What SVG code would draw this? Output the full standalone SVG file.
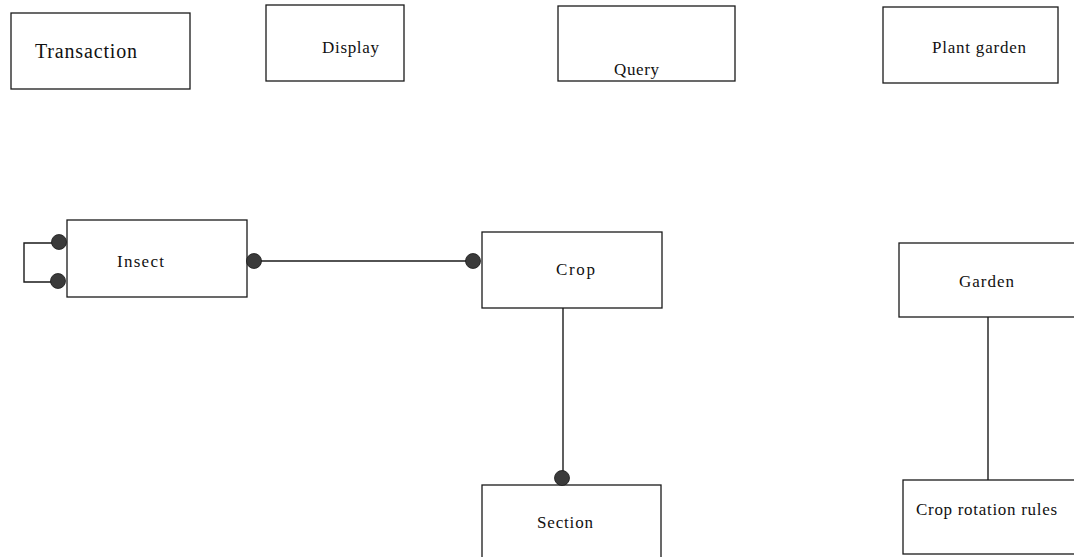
<svg xmlns="http://www.w3.org/2000/svg" width="1074" height="557" viewBox="0 0 1074 557">
  <style>
    .box { fill: #ffffff; stroke: #1a1a1a; stroke-width: 1.3; }
    .lbl { font-family: "Liberation Serif", "Times New Roman", serif; font-size: 17px; fill: #111; }
    .big { font-size: 20px; }
    .wire { fill: none; stroke: #1a1a1a; stroke-width: 1.4; }
    .dot { fill: #3a3a3a; stroke: #1a1a1a; stroke-width: 0.8; }
  </style>
  <rect width="1074" height="557" fill="#ffffff"/>

  <!-- connectors -->
  <g id="connectors">
    <polyline class="wire" points="59,243 24,243 24,282 57,282"/>
    <line class="wire" x1="254" y1="261" x2="473" y2="261"/>
    <line class="wire" x1="563" y1="308" x2="563" y2="478"/>
    <line class="wire" x1="988" y1="317" x2="988" y2="480"/>
  </g>

  <g id="transaction">
    <rect class="box" x="11" y="13" width="179" height="76"/>
    <text class="lbl big" x="35" y="58" textLength="102" lengthAdjust="spacing">Transaction</text>
  </g>

  <g id="display">
    <rect class="box" x="266" y="5" width="138" height="76"/>
    <text class="lbl" x="322" y="53" textLength="57" lengthAdjust="spacing">Display</text>
  </g>

  <g id="query">
    <rect class="box" x="558" y="6" width="177" height="75"/>
    <text class="lbl" x="614" y="75" textLength="45" lengthAdjust="spacing">Query</text>
  </g>

  <g id="plant-garden">
    <rect class="box" x="883" y="7" width="175" height="76"/>
    <text class="lbl" x="932" y="53" textLength="94" lengthAdjust="spacing">Plant garden</text>
  </g>

  <g id="insect">
    <rect class="box" x="67" y="220" width="180" height="77"/>
    <text class="lbl" x="117" y="267" textLength="47" lengthAdjust="spacing">Insect</text>
    <circle class="dot" cx="59" cy="242" r="7.5"/>
    <circle class="dot" cx="58" cy="281" r="7.5"/>
    <circle class="dot" cx="254" cy="261" r="7.5"/>
  </g>

  <g id="crop">
    <rect class="box" x="482" y="232" width="180" height="76"/>
    <text class="lbl" x="556" y="275" textLength="39" lengthAdjust="spacing">Crop</text>
    <circle class="dot" cx="473" cy="261" r="7.5"/>
  </g>

  <g id="section">
    <rect class="box" x="482" y="485" width="179" height="80"/>
    <text class="lbl" x="537" y="528" textLength="56" lengthAdjust="spacing">Section</text>
    <circle class="dot" cx="562" cy="478" r="7.5"/>
  </g>

  <g id="garden">
    <rect class="box" x="899" y="243" width="190" height="74"/>
    <text class="lbl" x="959" y="287" textLength="55" lengthAdjust="spacing">Garden</text>
  </g>

  <g id="crop-rotation-rules">
    <rect class="box" x="903" y="480" width="190" height="74"/>
    <text class="lbl" x="916" y="515" textLength="141" lengthAdjust="spacing">Crop rotation rules</text>
  </g>
</svg>
